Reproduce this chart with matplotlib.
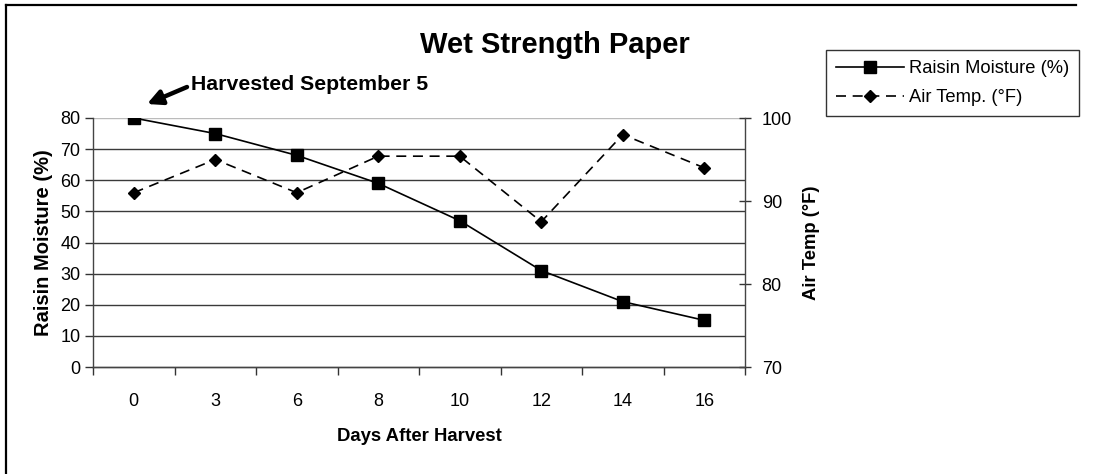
import matplotlib
matplotlib.use("Agg")
import matplotlib.pyplot as plt
from matplotlib.lines import Line2D

plt.rcParams['font.family'] = ['Liberation Sans', 'DejaVu Sans']

days = ["0", "3", "6", "8", "10", "12", "14", "16"]
moisture = [80, 75, 68, 59, 47, 31, 21, 15]
air_temp = [91, 95, 91, 95.4, 95.4, 87.5, 98, 94]

W, H = 1094, 474
fig = plt.figure(figsize=(W / 100, H / 100), dpi=100)
ax = fig.add_axes([93 / W, 1 - 367 / H, (745 - 93) / W, (367 - 118) / H])
ax2 = ax.twinx()

x = list(range(len(days)))

# horizontal gridlines behind everything
for v in range(10, 81, 10):
    ax.axhline(v, color='#3a3a3a' if v < 80 else '#bbbbbb', lw=1.0, zorder=0)

l1, = ax.plot(x, moisture, color='black', lw=1.2, marker='s', ms=8,
              label='Raisin Moisture (%)', zorder=3)
l2, = ax2.plot(x, air_temp, color='black', lw=1.2, ls=(0, (6, 4)), marker='D', ms=6.5,
               label='Air Temp. (°F)', zorder=3)

ax.set_xlim(-0.5, len(days) - 0.5)
ax.set_ylim(0, 80)
ax2.set_ylim(70, 100)
ax.set_yticks(range(0, 81, 10))
ax2.set_yticks([70, 80, 90, 100])

# category labels centred, tick marks on the boundaries
ax.set_xticks(x)
ax.set_xticklabels(days)
ax.set_xticks([i - 0.5 for i in range(len(days) + 1)], minor=True)
ax.tick_params(axis='x', which='major', length=0, pad=19, labelsize=13)
ax.tick_params(axis='x', which='minor', length=6, width=1, color='#333333', direction='out')
ax.tick_params(axis='y', length=6, width=1, color='#333333', direction='out', labelsize=13, pad=3)
ax2.tick_params(axis='y', length=8, width=1, color='#333333', direction='inout', labelsize=13, pad=8)

for a in (ax, ax2):
    a.spines['top'].set_visible(False)
    for s in ('left', 'right', 'bottom'):
        a.spines[s].set_color('#444444')
        a.spines[s].set_linewidth(1.0)
ax2.spines['left'].set_visible(False)
ax.spines['right'].set_visible(False)

ax.set_xlabel('Days After Harvest', fontsize=13.3, fontweight='bold', labelpad=13)
ax.set_ylabel('Raisin Moisture (%)', fontsize=14.5, fontweight='bold', labelpad=5)
ax2.set_ylabel('Air Temp (°F)', fontsize=13.3, fontweight='bold', labelpad=8)

fig.text(555 / W, 1 - 45 / H, 'Wet Strength Paper', ha='center', va='center',
         fontsize=21, fontweight='bold')

fig.text(191 / W, 1 - 84 / H, 'Harvested September 5', ha='left', va='center',
         fontsize=15.3, fontweight='bold')
ax.annotate('', xy=(147, H - 104), xycoords='figure pixels',
            xytext=(187, H - 87), textcoords='figure pixels',
            arrowprops=dict(arrowstyle='-|>', lw=3.2, color='black', mutation_scale=22,
                            shrinkA=0, shrinkB=0))

leg = ax.legend(handles=[l1, l2], loc='upper right',
                bbox_to_anchor=(1079 / W, 1 - 50 / H), bbox_transform=fig.transFigure,
                fontsize=13.2, handlelength=3.7, frameon=True, fancybox=False,
                borderpad=0.55, labelspacing=0.65, handletextpad=0.25, borderaxespad=0)
leg.get_frame().set_edgecolor('black')
leg.get_frame().set_linewidth(1.0)

# outer chart border (top and left edges)
fig.add_artist(Line2D([6 / W, 6 / W], [0, 1 - 5 / H], color='black', lw=1.6,
                      transform=fig.transFigure))
fig.add_artist(Line2D([6 / W, 1076 / W], [1 - 5 / H, 1 - 5 / H], color='black', lw=1.6,
                      transform=fig.transFigure))

fig.savefig('out.png', dpi=100)
